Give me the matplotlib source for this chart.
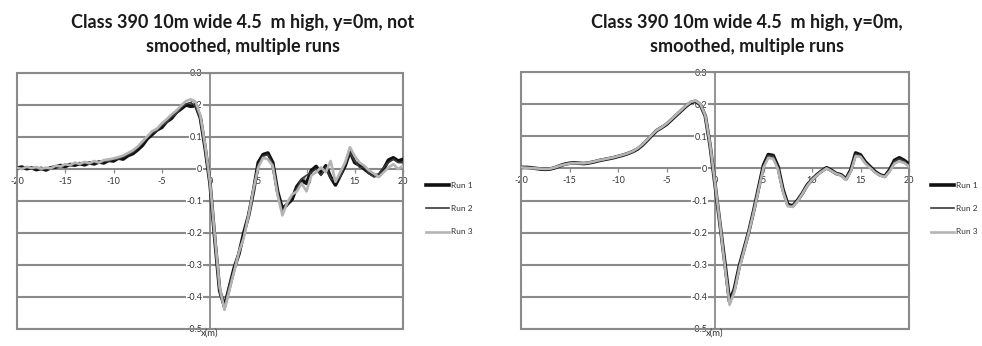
import numpy as np
import matplotlib
matplotlib.use("Agg")
import matplotlib.pyplot as plt
from matplotlib.patches import Rectangle

plt.rcParams['font.family'] = ['Lato', 'DejaVu Sans']
plt.rcParams['axes.unicode_minus'] = False

# Distance along track (m), 0.5 m spacing
x_m = [-20 + 0.5 * i for i in range(81)]

# Raw (not smoothed) pressure traces
raw_run1 = [0.003, 0.006, 0.001, 0.004, -0.002, 0.002, -0.003, 0.004, 0.006, 0.011,
            0.008, 0.014, 0.012, 0.017, 0.013, 0.019, 0.016, 0.022, 0.019, 0.027,
            0.025, 0.034, 0.031, 0.042, 0.048, 0.060, 0.074, 0.095, 0.108, 0.122,
            0.130, 0.148, 0.158, 0.177, 0.188, 0.200, 0.196, 0.200, 0.160, 0.065,
            -0.045, -0.220, -0.380, -0.430, -0.370, -0.310, -0.265, -0.200, -0.145, -0.070,
            0.020, 0.045, 0.050, 0.020, -0.070, -0.125, -0.110, -0.095, -0.055, -0.035,
            -0.045, -0.005, 0.008, -0.015, 0.010, -0.025, -0.050, -0.020, 0.010, 0.055,
            0.020, 0.012, 0.000, -0.012, -0.020, -0.020, 0.000, 0.028, 0.035, 0.025,
            0.030]
raw_run2 = [0.000, 0.003, 0.005, 0.000, 0.002, -0.002, 0.001, 0.006, 0.009, 0.007,
            0.013, 0.010, 0.016, 0.014, 0.018, 0.015, 0.021, 0.018, 0.024, 0.024,
            0.030, 0.031, 0.038, 0.045, 0.052, 0.066, 0.080, 0.098, 0.112, 0.120,
            0.136, 0.145, 0.163, 0.172, 0.192, 0.203, 0.208, 0.196, 0.155, 0.058,
            -0.050, -0.230, -0.385, -0.435, -0.360, -0.315, -0.255, -0.210, -0.135, -0.060,
            0.015, 0.040, 0.045, 0.015, -0.075, -0.130, -0.115, -0.085, -0.060, -0.030,
            -0.020, -0.010, 0.000, -0.020, 0.005, -0.030, -0.035, -0.025, 0.015, 0.050,
            0.025, 0.005, 0.005, -0.015, -0.025, -0.015, 0.005, 0.020, 0.030, 0.020,
            0.020]
raw_run3 = [0.004, 0.000, 0.007, 0.003, 0.006, 0.001, 0.004, 0.002, 0.010, 0.008,
            0.015, 0.012, 0.020, 0.016, 0.022, 0.018, 0.025, 0.020, 0.028, 0.030,
            0.033, 0.037, 0.042, 0.050, 0.058, 0.070, 0.086, 0.102, 0.118, 0.126,
            0.142, 0.155, 0.170, 0.182, 0.198, 0.212, 0.218, 0.210, 0.168, 0.075,
            -0.040, -0.210, -0.370, -0.440, -0.380, -0.320, -0.260, -0.215, -0.145, -0.065,
            0.005, 0.035, 0.030, 0.010, -0.080, -0.145, -0.105, -0.080, -0.070, -0.045,
            -0.070, -0.020, -0.010, 0.005, -0.010, 0.025, -0.040, -0.010, 0.020, 0.068,
            0.040, 0.020, 0.010, -0.005, -0.015, -0.025, -0.010, 0.005, 0.015, 0.000,
            0.010]

# Smoothed pressure traces
smooth_run1 = [0.003, 0.003, 0.002, 0.000, -0.002, -0.003, -0.002, 0.002, 0.008, 0.013,
               0.016, 0.017, 0.016, 0.015, 0.017, 0.020, 0.024, 0.027, 0.030, 0.033,
               0.037, 0.041, 0.046, 0.052, 0.060, 0.072, 0.087, 0.103, 0.118, 0.127,
               0.137, 0.151, 0.165, 0.179, 0.193, 0.205, 0.209, 0.198, 0.163, 0.070,
               -0.050, -0.170, -0.290, -0.415, -0.375, -0.305, -0.250, -0.195, -0.130, -0.060,
               0.010, 0.043, 0.040, 0.005, -0.065, -0.112, -0.117, -0.100, -0.078, -0.052,
               -0.035, -0.020, -0.008, 0.002, -0.006, -0.016, -0.020, -0.033, -0.005, 0.048,
               0.042, 0.020, 0.005, -0.010, -0.020, -0.025, -0.005, 0.025, 0.033, 0.025,
               0.013]
smooth_run2 = [0.002, 0.002, 0.001, -0.001, -0.002, -0.003, -0.001, 0.003, 0.009, 0.013,
               0.016, 0.016, 0.015, 0.015, 0.017, 0.021, 0.024, 0.027, 0.031, 0.034,
               0.038, 0.042, 0.047, 0.053, 0.061, 0.073, 0.088, 0.104, 0.118, 0.128,
               0.138, 0.152, 0.166, 0.180, 0.194, 0.206, 0.210, 0.199, 0.162, 0.068,
               -0.052, -0.172, -0.295, -0.418, -0.372, -0.302, -0.248, -0.193, -0.128, -0.058,
               0.008, 0.040, 0.038, 0.003, -0.067, -0.114, -0.118, -0.100, -0.076, -0.050,
               -0.032, -0.018, -0.006, 0.001, -0.008, -0.018, -0.022, -0.030, -0.006, 0.045,
               0.040, 0.018, 0.004, -0.011, -0.021, -0.024, -0.006, 0.022, 0.030, 0.022,
               0.011]
smooth_run3 = [0.003, 0.002, 0.001, 0.000, -0.001, -0.002, -0.001, 0.003, 0.008, 0.012,
               0.015, 0.016, 0.016, 0.016, 0.018, 0.021, 0.025, 0.028, 0.031, 0.034,
               0.038, 0.042, 0.047, 0.053, 0.062, 0.074, 0.089, 0.105, 0.119, 0.128,
               0.139, 0.153, 0.167, 0.181, 0.195, 0.207, 0.211, 0.200, 0.165, 0.074,
               -0.046, -0.168, -0.300, -0.425, -0.385, -0.312, -0.255, -0.198, -0.135, -0.066,
               0.002, 0.033, 0.030, -0.003, -0.072, -0.118, -0.120, -0.103, -0.080, -0.055,
               -0.036, -0.022, -0.010, 0.000, -0.008, -0.017, -0.022, -0.036, -0.010, 0.038,
               0.036, 0.015, 0.001, -0.013, -0.022, -0.027, -0.010, 0.015, 0.022, 0.017,
               0.006]

run_labels = ["Run 1", "Run 2", "Run 3"]
x_ticks = [-20, -15, -10, -5, 0, 5, 10, 15, 20]
y_ticks = [-0.5, -0.4, -0.3, -0.2, -0.1, 0, 0.1, 0.2, 0.3]

titles = ["Class 390 10m wide 4.5  m high, y=0m, not\nsmoothed, multiple runs",
          "Class 390 10m wide 4.5  m high, y=0m,\nsmoothed, multiple runs"]

styles = [dict(color="#111111", lw=2.6),
          dict(color="#3a3a3a", lw=1.2),
          dict(color="#b4b4b4", lw=1.9)]

grid_col = "#8a8a8a"
text_col = "#333333"

fig = plt.figure(figsize=(9.82, 3.46), dpi=100)
fig.patch.set_facecolor("white")

axes_rects = [[17 / 982, 1 - 329 / 346, 386 / 982, 256 / 346],
              [521 / 982, 1 - 329 / 346, 388 / 982, 257 / 346]]
datasets = [[raw_run1, raw_run2, raw_run3],
            [smooth_run1, smooth_run2, smooth_run3]]
title_x = [243 / 982, 747 / 982]
legend_x = [426 / 982, 931 / 982]

def fmt(v):
    if abs(v) < 1e-9:
        return "0"
    if float(v).is_integer():
        return str(int(v))
    return f"{v:.1f}"

label_box = dict(facecolor="white", edgecolor="none", pad=0.6)

for k in range(2):
    ax = fig.add_axes(axes_rects[k])
    lines = []
    for series, st, lab in zip(datasets[k], styles, run_labels):
        ln, = ax.plot(x_m, series, label=lab, solid_joinstyle="round", **st)
        lines.append(ln)
    ax.set_xlim(-20, 20)
    ax.set_ylim(-0.5, 0.3)

    # axis lines crossing at the origin
    for s in ["top", "right"]:
        ax.spines[s].set_visible(False)
    ax.spines["left"].set_position(("data", 0))
    ax.spines["bottom"].set_position(("data", 0))
    for s in ["left", "bottom"]:
        ax.spines[s].set_color(grid_col)
        ax.spines[s].set_linewidth(1.3)
        ax.spines[s].set_zorder(0.5)

    ax.set_xticks(x_ticks)
    ax.set_yticks(y_ticks)
    ax.set_xticklabels([fmt(v) for v in x_ticks])
    ax.set_yticklabels([fmt(v) for v in y_ticks])
    ax.tick_params(axis="both", labelsize=6.5, colors=grid_col, labelcolor=text_col,
                   length=3, width=0.9, direction="out", pad=2.5)
    for lbl in ax.get_yticklabels():
        lbl.set_bbox(label_box)

    ax.yaxis.grid(True, color=grid_col, lw=1.5)
    ax.set_axisbelow(True)

    # plot-area border
    ax.add_patch(Rectangle((0, 0), 1, 1, transform=ax.transAxes, fill=False,
                           edgecolor=grid_col, lw=1.5, clip_on=False, zorder=0.6))

    ax.text(0, -0.5, "x(m)", ha="center", va="top", fontsize=6.8,
            color=text_col, transform=ax.transData)

    fig.text(title_x[k], 1 - 34.5 / 346, titles[k], ha="center", va="center",
             fontsize=13, fontweight="bold", color="#1a1a1a", linespacing=1.45)

    fig.legend(handles=lines, labels=run_labels, loc="upper left",
               bbox_to_anchor=(legend_x[k], 1 - 182 / 346), frameon=False,
               fontsize=6, handlelength=2.8, handletextpad=0.15,
               labelspacing=1.95, borderaxespad=0, borderpad=0,
               labelcolor=text_col)

fig.savefig("out.png", dpi=100, facecolor="white")
